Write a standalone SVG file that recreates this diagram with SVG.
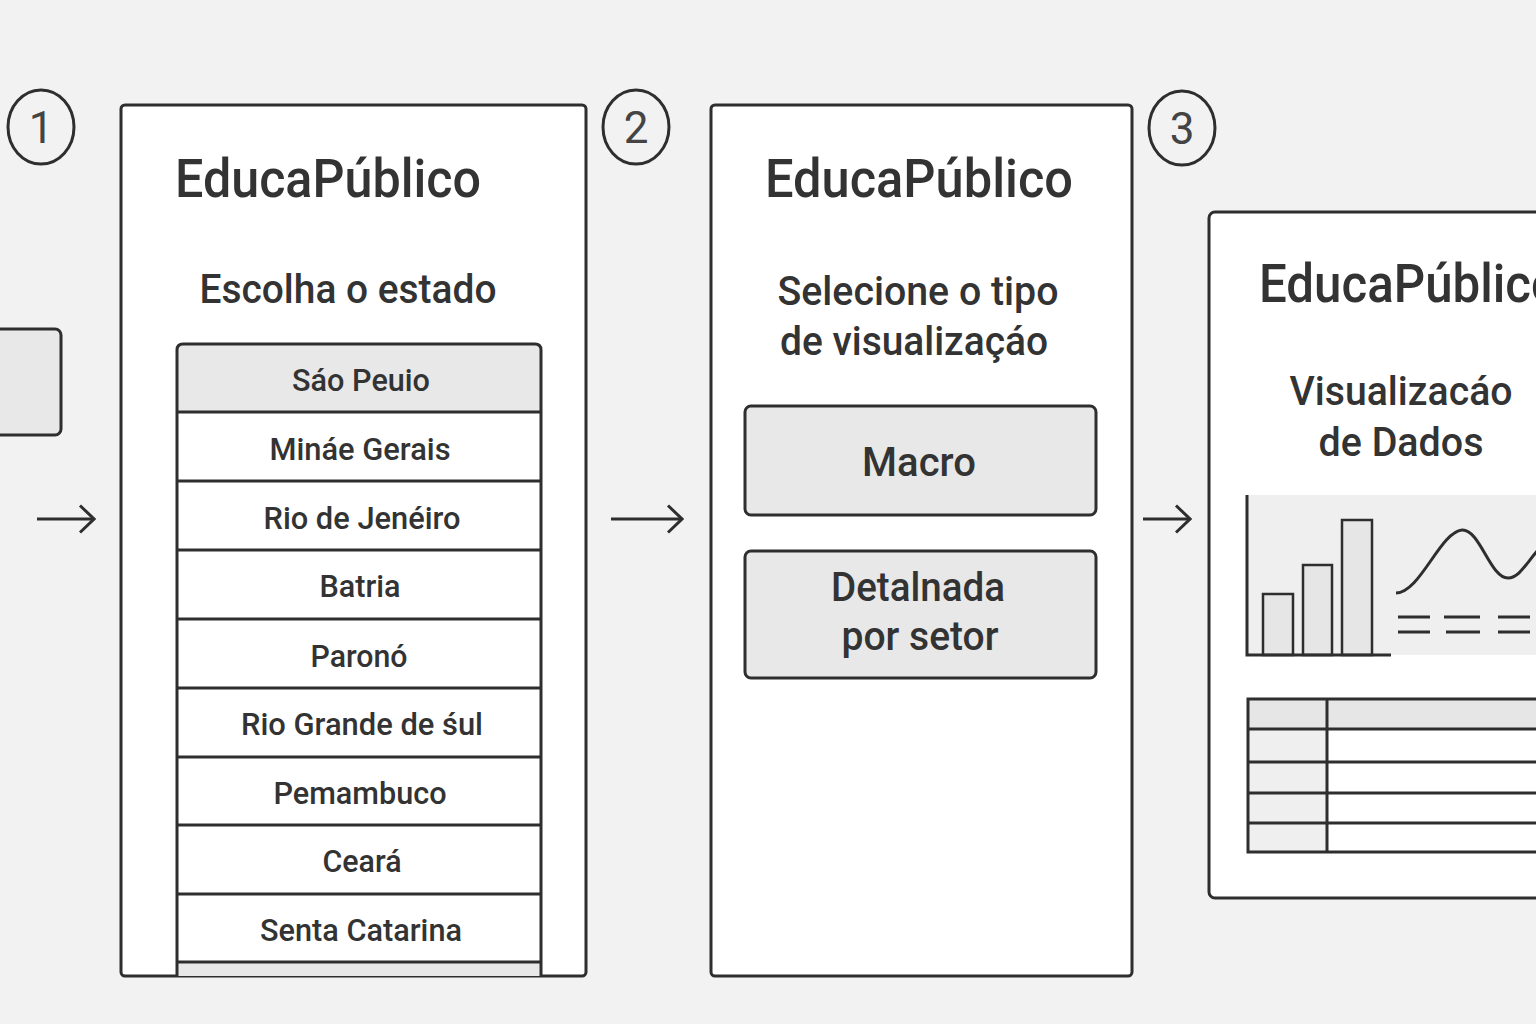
<svg xmlns="http://www.w3.org/2000/svg" width="1536" height="1024" viewBox="0 0 1536 1024">
<defs>
<style>
.bg{fill:#f2f2f2}
.panel{fill:#ffffff;stroke:#2e2e2e;stroke-width:3}
.btn{fill:#e8e8e8;stroke:#2e2e2e;stroke-width:3}
.ln{stroke:#2e2e2e;stroke-width:3;fill:none}
.t{font-family:Roboto,"Liberation Sans",sans-serif;font-weight:500;fill:#333333}
.title{font-size:54px;text-anchor:start}
.sub{font-size:40px;text-anchor:middle}
.item{font-size:32px;text-anchor:middle}
.num{font-family:Roboto,"Liberation Sans",sans-serif;font-size:44px;fill:#444444;text-anchor:middle;font-weight:400}
.circ{fill:none;stroke:#2e2e2e;stroke-width:3}
</style>
<marker id="ah" viewBox="0 0 20 30" refX="18" refY="15" markerWidth="20" markerHeight="30" markerUnits="userSpaceOnUse" orient="auto">
<path d="M4 1.5 L18 15 L4 28.5" fill="none" stroke="#2e2e2e" stroke-width="3"/>
</marker>
</defs>
<rect class="bg" x="0" y="0" width="1536" height="1024"/>

<g id="left-partial">
<rect class="btn" x="-10" y="329" width="71" height="106" rx="6"/>
</g>

<g id="step1">
<ellipse class="circ" cx="41" cy="127" rx="33" ry="37"/>
<text class="num" x="41" y="143">1</text>
</g>
<g id="step2">
<ellipse class="circ" cx="636" cy="127" rx="33" ry="37"/>
<text class="num" x="636" y="143">2</text>
</g>
<g id="step3">
<ellipse class="circ" cx="1182" cy="128" rx="33" ry="37"/>
<text class="num" x="1182" y="144">3</text>
</g>

<g id="panel1">
<rect class="panel" x="121" y="105" width="465" height="871" rx="4"/>
<text class="t title" x="175" y="197" textLength="306" lengthAdjust="spacingAndGlyphs">EducaPúblico</text>
<text class="t sub" x="348" y="303" textLength="297" lengthAdjust="spacingAndGlyphs">Escolha o estado</text>
<rect x="177" y="344" width="364" height="68" fill="#e8e8e8"/>
<rect x="177" y="962" width="364" height="14" fill="#e8e8e8"/>
<path class="ln" d="M177 976 V350 Q177 344 183 344 H535 Q541 344 541 350 V976"/>
<path class="ln" d="M177 412 H541 M177 481 H541 M177 550 H541 M177 619 H541 M177 688 H541 M177 757 H541 M177 825 H541 M177 894 H541 M177 962 H541"/>
<text class="t item" x="361" y="391" textLength="138" lengthAdjust="spacingAndGlyphs">Sáo Peuio</text>
<text class="t item" x="360" y="460" textLength="181" lengthAdjust="spacingAndGlyphs">Mináe Gerais</text>
<text class="t item" x="362" y="529" textLength="197" lengthAdjust="spacingAndGlyphs">Rio de Jenéiro</text>
<text class="t item" x="360" y="597" textLength="81" lengthAdjust="spacingAndGlyphs">Batria</text>
<text class="t item" x="359" y="667" textLength="97" lengthAdjust="spacingAndGlyphs">Paronó</text>
<text class="t item" x="362" y="735" textLength="242" lengthAdjust="spacingAndGlyphs">Rio Grande de śul</text>
<text class="t item" x="360" y="804" textLength="173" lengthAdjust="spacingAndGlyphs">Pemambuco</text>
<text class="t item" x="362" y="872" textLength="79" lengthAdjust="spacingAndGlyphs">Ceará</text>
<text class="t item" x="361" y="941" textLength="202" lengthAdjust="spacingAndGlyphs">Senta Catarina</text>
</g>

<g id="panel2">
<rect class="panel" x="711" y="105" width="421" height="871" rx="4"/>
<text class="t title" x="765" y="197" textLength="308" lengthAdjust="spacingAndGlyphs">EducaPúblico</text>
<text class="t sub" x="918" y="305" textLength="281" lengthAdjust="spacingAndGlyphs">Selecione o tipo</text>
<text class="t sub" x="914" y="355" textLength="268" lengthAdjust="spacingAndGlyphs">de visualizaçáo</text>
<rect class="btn" x="745" y="406" width="351" height="109" rx="6"/>
<text class="t sub" x="919" y="476">Macro</text>
<rect class="btn" x="745" y="551" width="351" height="127" rx="6"/>
<text class="t sub" x="918" y="601" textLength="174" lengthAdjust="spacingAndGlyphs">Detalnada</text>
<text class="t sub" x="920" y="650" textLength="157" lengthAdjust="spacingAndGlyphs">por setor</text>
</g>

<g id="panel3">
<rect class="panel" x="1209" y="212" width="340" height="686" rx="6"/>
<text class="t title" x="1259" y="302" textLength="300" lengthAdjust="spacingAndGlyphs">EducaPúblico</text>
<text class="t sub" x="1401" y="405" textLength="223" lengthAdjust="spacingAndGlyphs">Visualizacáo</text>
<text class="t sub" x="1401" y="456" textLength="165" lengthAdjust="spacingAndGlyphs">de Dados</text>
<rect x="1247" y="495" width="295" height="160" fill="#efefef"/>
<rect x="1263" y="594" width="30" height="61" fill="#e6e6e6" stroke="#2e2e2e" stroke-width="2.5"/>
<rect x="1303" y="565" width="29" height="90" fill="#e6e6e6" stroke="#2e2e2e" stroke-width="2.5"/>
<rect x="1342" y="520" width="30" height="135" fill="#e6e6e6" stroke="#2e2e2e" stroke-width="2.5"/>
<path class="ln" d="M1247 495 V655 H1391"/>
<path class="ln" stroke-width="2.5" d="M1396 593 C1420 593 1440 532 1462 530 C1480 529 1490 578 1508 578 C1520 578 1528 560 1540 548"/>
<path class="ln" stroke-width="2.5" d="M1398 617 H1430 M1444 617 H1480 M1498 617 H1530 M1398 632 H1430 M1446 632 H1480 M1498 632 H1530"/>
<rect x="1248" y="699" width="292" height="30" fill="#e6e6e6"/>
<rect x="1248" y="729" width="79" height="123" fill="#efefef"/>
<path class="ln" d="M1540 699 H1248 V852 H1540 M1248 729 H1540 M1248 762 H1540 M1248 793 H1540 M1248 823 H1540 M1327 699 V852"/>
</g>

<g id="connectors">
<line class="ln" x1="37" y1="519" x2="94" y2="519" marker-end="url(#ah)"/>
<line class="ln" x1="611" y1="519" x2="682" y2="519" marker-end="url(#ah)"/>
<line class="ln" x1="1143" y1="519" x2="1190" y2="519" marker-end="url(#ah)"/>
</g>
</svg>
